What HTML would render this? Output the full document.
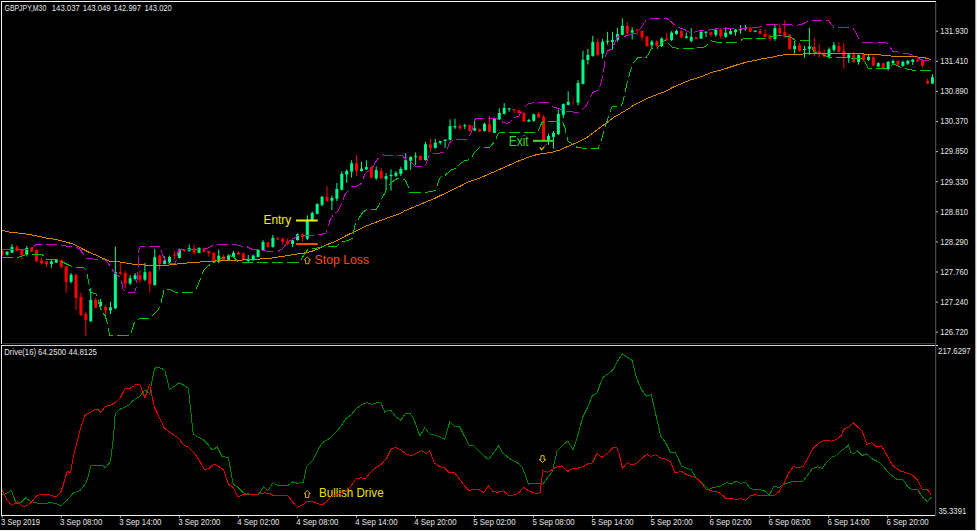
<!DOCTYPE html><html><head><meta charset="utf-8"><title>GBPJPY,M30</title><style>
html,body{margin:0;padding:0;background:#000;overflow:hidden;}
svg{display:block;}
text{font-family:"Liberation Sans",Arial,sans-serif;}
.ax{fill:#e6e6e6;font-size:8.8px;}
</style></head><body>
<svg width="977" height="531" viewBox="0 0 977 531">
<rect x="0" y="0" width="977" height="531" fill="#000"/>
<rect x="975" y="0" width="1" height="531" fill="#a0a0a0"/>
<rect x="976" y="0" width="1" height="531" fill="#f0f0f0"/>
<rect x="0" y="530" width="977" height="1" fill="#f0f0f0"/>
<defs><clipPath id="cclip"><rect x="2" y="2" width="933" height="341"/></clipPath></defs>
<g id="candles" clip-path="url(#cclip)"><line x1="2.16" y1="250.0" x2="2.16" y2="256.0" stroke="#ff0000" stroke-width="1"/><line x1="7.08" y1="251.0" x2="7.08" y2="255.5" stroke="#00fa8a" stroke-width="1"/><line x1="12.00" y1="244.2" x2="12.00" y2="253.0" stroke="#00fa8a" stroke-width="1"/><line x1="16.93" y1="245.0" x2="16.93" y2="251.0" stroke="#ff0000" stroke-width="1"/><line x1="21.85" y1="249.0" x2="21.85" y2="259.5" stroke="#ff0000" stroke-width="1"/><line x1="26.77" y1="246.0" x2="26.77" y2="256.6" stroke="#00fa8a" stroke-width="1"/><line x1="31.69" y1="247.0" x2="31.69" y2="252.0" stroke="#ff0000" stroke-width="1"/><line x1="36.61" y1="249.5" x2="36.61" y2="262.0" stroke="#ff0000" stroke-width="1"/><line x1="41.54" y1="258.0" x2="41.54" y2="264.5" stroke="#ff0000" stroke-width="1"/><line x1="46.46" y1="261.0" x2="46.46" y2="266.8" stroke="#ff0000" stroke-width="1"/><line x1="51.38" y1="259.5" x2="51.38" y2="267.7" stroke="#00fa8a" stroke-width="1"/><line x1="56.30" y1="259.0" x2="56.30" y2="263.0" stroke="#00fa8a" stroke-width="1"/><line x1="61.22" y1="259.8" x2="61.22" y2="268.7" stroke="#ff0000" stroke-width="1"/><line x1="66.15" y1="266.0" x2="66.15" y2="292.8" stroke="#ff0000" stroke-width="1"/><line x1="71.07" y1="273.0" x2="71.07" y2="283.3" stroke="#00fa8a" stroke-width="1"/><line x1="75.99" y1="274.0" x2="75.99" y2="309.9" stroke="#ff0000" stroke-width="1"/><line x1="80.91" y1="292.8" x2="80.91" y2="316.0" stroke="#ff0000" stroke-width="1"/><line x1="85.83" y1="312.2" x2="85.83" y2="335.8" stroke="#ff0000" stroke-width="1"/><line x1="90.76" y1="288.1" x2="90.76" y2="321.8" stroke="#00fa8a" stroke-width="1"/><line x1="95.68" y1="298.0" x2="95.68" y2="308.0" stroke="#ff0000" stroke-width="1"/><line x1="100.60" y1="299.0" x2="100.60" y2="309.0" stroke="#00fa8a" stroke-width="1"/><line x1="105.52" y1="305.2" x2="105.52" y2="318.7" stroke="#ff0000" stroke-width="1"/><line x1="110.44" y1="302.0" x2="110.44" y2="314.0" stroke="#00fa8a" stroke-width="1"/><line x1="115.37" y1="246.6" x2="115.37" y2="309.0" stroke="#00fa8a" stroke-width="1"/><line x1="120.29" y1="262.4" x2="120.29" y2="275.2" stroke="#ff0000" stroke-width="1"/><line x1="125.21" y1="270.7" x2="125.21" y2="288.7" stroke="#ff0000" stroke-width="1"/><line x1="130.13" y1="275.2" x2="130.13" y2="285.0" stroke="#00fa8a" stroke-width="1"/><line x1="135.05" y1="273.0" x2="135.05" y2="280.5" stroke="#00fa8a" stroke-width="1"/><line x1="139.98" y1="270.7" x2="139.98" y2="282.7" stroke="#ff0000" stroke-width="1"/><line x1="144.90" y1="263.0" x2="144.90" y2="281.2" stroke="#00fa8a" stroke-width="1"/><line x1="149.82" y1="271.0" x2="149.82" y2="292.5" stroke="#ff0000" stroke-width="1"/><line x1="154.74" y1="248.8" x2="154.74" y2="285.7" stroke="#00fa8a" stroke-width="1"/><line x1="159.66" y1="254.8" x2="159.66" y2="269.9" stroke="#ff0000" stroke-width="1"/><line x1="164.59" y1="256.4" x2="164.59" y2="264.6" stroke="#00fa8a" stroke-width="1"/><line x1="169.51" y1="255.6" x2="169.51" y2="263.0" stroke="#00fa8a" stroke-width="1"/><line x1="174.43" y1="251.0" x2="174.43" y2="259.4" stroke="#ff0000" stroke-width="1"/><line x1="179.35" y1="248.8" x2="179.35" y2="258.5" stroke="#00fa8a" stroke-width="1"/><line x1="184.27" y1="249.0" x2="184.27" y2="252.0" stroke="#ff0000" stroke-width="1"/><line x1="189.20" y1="244.4" x2="189.20" y2="251.9" stroke="#00fa8a" stroke-width="1"/><line x1="194.12" y1="245.1" x2="194.12" y2="254.5" stroke="#ff0000" stroke-width="1"/><line x1="199.04" y1="247.5" x2="199.04" y2="253.0" stroke="#00fa8a" stroke-width="1"/><line x1="203.96" y1="247.4" x2="203.96" y2="252.4" stroke="#ff0000" stroke-width="1"/><line x1="208.88" y1="250.8" x2="208.88" y2="256.4" stroke="#ff0000" stroke-width="1"/><line x1="213.81" y1="252.4" x2="213.81" y2="261.7" stroke="#ff0000" stroke-width="1"/><line x1="218.73" y1="249.6" x2="218.73" y2="263.2" stroke="#00fa8a" stroke-width="1"/><line x1="223.65" y1="254.5" x2="223.65" y2="261.0" stroke="#ff0000" stroke-width="1"/><line x1="228.57" y1="254.2" x2="228.57" y2="260.2" stroke="#00fa8a" stroke-width="1"/><line x1="233.49" y1="251.1" x2="233.49" y2="257.5" stroke="#00fa8a" stroke-width="1"/><line x1="238.42" y1="251.1" x2="238.42" y2="254.9" stroke="#ff0000" stroke-width="1"/><line x1="243.34" y1="252.7" x2="243.34" y2="260.5" stroke="#ff0000" stroke-width="1"/><line x1="248.26" y1="254.9" x2="248.26" y2="262.4" stroke="#00fa8a" stroke-width="1"/><line x1="253.18" y1="254.5" x2="253.18" y2="260.9" stroke="#00fa8a" stroke-width="1"/><line x1="258.10" y1="249.3" x2="258.10" y2="257.2" stroke="#00fa8a" stroke-width="1"/><line x1="263.03" y1="240.2" x2="263.03" y2="250.3" stroke="#00fa8a" stroke-width="1"/><line x1="267.95" y1="241.7" x2="267.95" y2="247.7" stroke="#ff0000" stroke-width="1"/><line x1="272.87" y1="234.9" x2="272.87" y2="247.7" stroke="#00fa8a" stroke-width="1"/><line x1="277.79" y1="236.9" x2="277.79" y2="240.2" stroke="#ff0000" stroke-width="1"/><line x1="282.71" y1="237.5" x2="282.71" y2="244.7" stroke="#ff0000" stroke-width="1"/><line x1="287.64" y1="238.4" x2="287.64" y2="245.5" stroke="#ff0000" stroke-width="1"/><line x1="292.56" y1="238.7" x2="292.56" y2="247.0" stroke="#00fa8a" stroke-width="1"/><line x1="297.48" y1="233.4" x2="297.48" y2="240.5" stroke="#00fa8a" stroke-width="1"/><line x1="302.40" y1="233.4" x2="302.40" y2="241.7" stroke="#ff0000" stroke-width="1"/><line x1="307.32" y1="215.3" x2="307.32" y2="240.2" stroke="#00fa8a" stroke-width="1"/><line x1="312.25" y1="211.6" x2="312.25" y2="221.4" stroke="#00fa8a" stroke-width="1"/><line x1="317.17" y1="203.3" x2="317.17" y2="214.3" stroke="#00fa8a" stroke-width="1"/><line x1="322.09" y1="195.8" x2="322.09" y2="206.3" stroke="#00fa8a" stroke-width="1"/><line x1="327.01" y1="186.0" x2="327.01" y2="201.8" stroke="#ff0000" stroke-width="1"/><line x1="331.93" y1="195.7" x2="331.93" y2="210.0" stroke="#00fa8a" stroke-width="1"/><line x1="336.86" y1="183.0" x2="336.86" y2="201.0" stroke="#00fa8a" stroke-width="1"/><line x1="341.78" y1="171.3" x2="341.78" y2="190.5" stroke="#00fa8a" stroke-width="1"/><line x1="346.70" y1="169.4" x2="346.70" y2="183.0" stroke="#00fa8a" stroke-width="1"/><line x1="351.62" y1="160.3" x2="351.62" y2="177.6" stroke="#00fa8a" stroke-width="1"/><line x1="356.54" y1="155.0" x2="356.54" y2="176.1" stroke="#ff0000" stroke-width="1"/><line x1="361.47" y1="161.8" x2="361.47" y2="171.6" stroke="#00fa8a" stroke-width="1"/><line x1="366.39" y1="160.3" x2="366.39" y2="170.1" stroke="#00fa8a" stroke-width="1"/><line x1="371.31" y1="166.4" x2="371.31" y2="178.4" stroke="#ff0000" stroke-width="1"/><line x1="376.23" y1="166.4" x2="376.23" y2="179.9" stroke="#00fa8a" stroke-width="1"/><line x1="381.15" y1="167.9" x2="381.15" y2="178.9" stroke="#ff0000" stroke-width="1"/><line x1="386.08" y1="173.1" x2="386.08" y2="189.7" stroke="#00fa8a" stroke-width="1"/><line x1="391.00" y1="169.4" x2="391.00" y2="190.5" stroke="#00fa8a" stroke-width="1"/><line x1="395.92" y1="171.3" x2="395.92" y2="176.9" stroke="#00fa8a" stroke-width="1"/><line x1="400.84" y1="167.1" x2="400.84" y2="176.1" stroke="#00fa8a" stroke-width="1"/><line x1="405.76" y1="153.2" x2="405.76" y2="170.5" stroke="#00fa8a" stroke-width="1"/><line x1="410.69" y1="156.2" x2="410.69" y2="169.8" stroke="#00fa8a" stroke-width="1"/><line x1="415.61" y1="152.4" x2="415.61" y2="165.2" stroke="#00fa8a" stroke-width="1"/><line x1="420.53" y1="155.5" x2="420.53" y2="160.7" stroke="#ff0000" stroke-width="1"/><line x1="425.45" y1="141.9" x2="425.45" y2="160.7" stroke="#00fa8a" stroke-width="1"/><line x1="430.37" y1="138.9" x2="430.37" y2="151.7" stroke="#ff0000" stroke-width="1"/><line x1="435.30" y1="138.9" x2="435.30" y2="148.7" stroke="#00fa8a" stroke-width="1"/><line x1="440.22" y1="141.1" x2="440.22" y2="144.5" stroke="#00fa8a" stroke-width="1"/><line x1="445.14" y1="139.3" x2="445.14" y2="147.9" stroke="#00fa8a" stroke-width="1"/><line x1="450.06" y1="119.3" x2="450.06" y2="140.4" stroke="#00fa8a" stroke-width="1"/><line x1="454.98" y1="118.9" x2="454.98" y2="129.1" stroke="#00fa8a" stroke-width="1"/><line x1="459.91" y1="123.8" x2="459.91" y2="129.8" stroke="#ff0000" stroke-width="1"/><line x1="464.83" y1="123.8" x2="464.83" y2="129.1" stroke="#00fa8a" stroke-width="1"/><line x1="469.75" y1="124.6" x2="469.75" y2="131.8" stroke="#ff0000" stroke-width="1"/><line x1="474.67" y1="120.0" x2="474.67" y2="130.9" stroke="#00fa8a" stroke-width="1"/><line x1="479.59" y1="128.5" x2="479.59" y2="132.4" stroke="#ff0000" stroke-width="1"/><line x1="484.52" y1="122.6" x2="484.52" y2="131.7" stroke="#00fa8a" stroke-width="1"/><line x1="489.44" y1="115.9" x2="489.44" y2="132.4" stroke="#ff0000" stroke-width="1"/><line x1="494.36" y1="117.4" x2="494.36" y2="133.2" stroke="#00fa8a" stroke-width="1"/><line x1="499.28" y1="108.3" x2="499.28" y2="120.0" stroke="#00fa8a" stroke-width="1"/><line x1="504.20" y1="103.1" x2="504.20" y2="114.4" stroke="#00fa8a" stroke-width="1"/><line x1="509.13" y1="107.9" x2="509.13" y2="111.8" stroke="#00fa8a" stroke-width="1"/><line x1="514.05" y1="108.8" x2="514.05" y2="113.6" stroke="#ff0000" stroke-width="1"/><line x1="518.97" y1="109.8" x2="518.97" y2="113.6" stroke="#ff0000" stroke-width="1"/><line x1="523.89" y1="112.1" x2="523.89" y2="121.9" stroke="#ff0000" stroke-width="1"/><line x1="528.81" y1="118.9" x2="528.81" y2="121.9" stroke="#00fa8a" stroke-width="1"/><line x1="533.74" y1="113.6" x2="533.74" y2="121.9" stroke="#00fa8a" stroke-width="1"/><line x1="538.66" y1="111.8" x2="538.66" y2="118.1" stroke="#ff0000" stroke-width="1"/><line x1="543.58" y1="115.1" x2="543.58" y2="141.5" stroke="#ff0000" stroke-width="1"/><line x1="548.50" y1="133.9" x2="548.50" y2="144.8" stroke="#00fa8a" stroke-width="1"/><line x1="553.42" y1="131.0" x2="553.42" y2="148.7" stroke="#00fa8a" stroke-width="1"/><line x1="558.35" y1="109.4" x2="558.35" y2="135.0" stroke="#00fa8a" stroke-width="1"/><line x1="563.27" y1="103.3" x2="563.27" y2="118.4" stroke="#00fa8a" stroke-width="1"/><line x1="568.19" y1="91.3" x2="568.19" y2="105.6" stroke="#00fa8a" stroke-width="1"/><line x1="573.11" y1="96.5" x2="573.11" y2="105.9" stroke="#8a0000" stroke-width="1"/><line x1="578.03" y1="80.0" x2="578.03" y2="105.6" stroke="#00fa8a" stroke-width="1"/><line x1="582.96" y1="50.7" x2="582.96" y2="84.5" stroke="#00fa8a" stroke-width="1"/><line x1="587.88" y1="48.9" x2="587.88" y2="64.5" stroke="#00fa8a" stroke-width="1"/><line x1="592.80" y1="35.9" x2="592.80" y2="56.7" stroke="#00fa8a" stroke-width="1"/><line x1="597.72" y1="38.9" x2="597.72" y2="55.9" stroke="#ff0000" stroke-width="1"/><line x1="602.64" y1="38.9" x2="602.64" y2="58.2" stroke="#00fa8a" stroke-width="1"/><line x1="607.57" y1="31.8" x2="607.57" y2="44.6" stroke="#00fa8a" stroke-width="1"/><line x1="612.49" y1="31.8" x2="612.49" y2="49.5" stroke="#00fa8a" stroke-width="1"/><line x1="617.41" y1="27.8" x2="617.41" y2="41.6" stroke="#00fa8a" stroke-width="1"/><line x1="622.33" y1="18.3" x2="622.33" y2="35.3" stroke="#00fa8a" stroke-width="1"/><line x1="627.25" y1="22.0" x2="627.25" y2="35.6" stroke="#ff0000" stroke-width="1"/><line x1="632.18" y1="27.3" x2="632.18" y2="39.4" stroke="#00fa8a" stroke-width="1"/><line x1="637.10" y1="28.8" x2="637.10" y2="34.8" stroke="#ff0000" stroke-width="1"/><line x1="642.02" y1="30.3" x2="642.02" y2="40.9" stroke="#ff0000" stroke-width="1"/><line x1="646.94" y1="35.6" x2="646.94" y2="46.9" stroke="#ff0000" stroke-width="1"/><line x1="651.86" y1="40.1" x2="651.86" y2="49.2" stroke="#00fa8a" stroke-width="1"/><line x1="656.79" y1="40.1" x2="656.79" y2="46.9" stroke="#ff0000" stroke-width="1"/><line x1="661.71" y1="37.1" x2="661.71" y2="46.9" stroke="#00fa8a" stroke-width="1"/><line x1="666.63" y1="32.6" x2="666.63" y2="40.9" stroke="#ff0000" stroke-width="1"/><line x1="671.55" y1="31.1" x2="671.55" y2="40.9" stroke="#00fa8a" stroke-width="1"/><line x1="676.47" y1="29.6" x2="676.47" y2="34.8" stroke="#00fa8a" stroke-width="1"/><line x1="681.40" y1="30.3" x2="681.40" y2="37.9" stroke="#ff0000" stroke-width="1"/><line x1="686.32" y1="32.6" x2="686.32" y2="38.6" stroke="#00fa8a" stroke-width="1"/><line x1="691.24" y1="28.1" x2="691.24" y2="42.4" stroke="#00fa8a" stroke-width="1"/><line x1="696.16" y1="36.8" x2="696.16" y2="39.4" stroke="#ff0000" stroke-width="1"/><line x1="701.08" y1="31.1" x2="701.08" y2="38.9" stroke="#00fa8a" stroke-width="1"/><line x1="706.01" y1="31.1" x2="706.01" y2="37.1" stroke="#00fa8a" stroke-width="1"/><line x1="710.93" y1="31.8" x2="710.93" y2="36.8" stroke="#ff0000" stroke-width="1"/><line x1="715.85" y1="28.1" x2="715.85" y2="36.8" stroke="#00fa8a" stroke-width="1"/><line x1="720.77" y1="28.1" x2="720.77" y2="38.6" stroke="#ff0000" stroke-width="1"/><line x1="725.69" y1="27.3" x2="725.69" y2="37.9" stroke="#00fa8a" stroke-width="1"/><line x1="730.62" y1="28.8" x2="730.62" y2="34.8" stroke="#00fa8a" stroke-width="1"/><line x1="735.54" y1="28.8" x2="735.54" y2="35.6" stroke="#00fa8a" stroke-width="1"/><line x1="740.46" y1="25.1" x2="740.46" y2="33.8" stroke="#00fa8a" stroke-width="1"/><line x1="745.38" y1="24.8" x2="745.38" y2="30.8" stroke="#00fa8a" stroke-width="1"/><line x1="750.30" y1="26.6" x2="750.30" y2="32.3" stroke="#ff0000" stroke-width="1"/><line x1="755.23" y1="30.3" x2="755.23" y2="32.3" stroke="#00fa8a" stroke-width="1"/><line x1="760.15" y1="28.8" x2="760.15" y2="34.4" stroke="#ff0000" stroke-width="1"/><line x1="765.07" y1="29.3" x2="765.07" y2="37.1" stroke="#ff0000" stroke-width="1"/><line x1="769.99" y1="34.1" x2="769.99" y2="40.9" stroke="#ff0000" stroke-width="1"/><line x1="774.91" y1="25.1" x2="774.91" y2="40.9" stroke="#00fa8a" stroke-width="1"/><line x1="779.84" y1="23.3" x2="779.84" y2="34.8" stroke="#ff0000" stroke-width="1"/><line x1="784.76" y1="20.2" x2="784.76" y2="37.9" stroke="#ff0000" stroke-width="1"/><line x1="789.68" y1="34.1" x2="789.68" y2="49.9" stroke="#ff0000" stroke-width="1"/><line x1="794.60" y1="40.9" x2="794.60" y2="53.7" stroke="#00fa8a" stroke-width="1"/><line x1="799.52" y1="42.9" x2="799.52" y2="51.9" stroke="#ff0000" stroke-width="1"/><line x1="804.45" y1="45.9" x2="804.45" y2="57.9" stroke="#00fa8a" stroke-width="1"/><line x1="809.37" y1="27.8" x2="809.37" y2="54.9" stroke="#00fa8a" stroke-width="1"/><line x1="814.29" y1="37.9" x2="814.29" y2="56.4" stroke="#ff0000" stroke-width="1"/><line x1="819.21" y1="44.4" x2="819.21" y2="57.9" stroke="#ff0000" stroke-width="1"/><line x1="824.13" y1="49.3" x2="824.13" y2="57.2" stroke="#ff0000" stroke-width="1"/><line x1="829.06" y1="47.4" x2="829.06" y2="58.7" stroke="#00fa8a" stroke-width="1"/><line x1="833.98" y1="42.1" x2="833.98" y2="51.9" stroke="#00fa8a" stroke-width="1"/><line x1="838.90" y1="42.1" x2="838.90" y2="52.7" stroke="#ff0000" stroke-width="1"/><line x1="843.82" y1="42.9" x2="843.82" y2="68.5" stroke="#ff0000" stroke-width="1"/><line x1="848.74" y1="53.4" x2="848.74" y2="62.9" stroke="#00fa8a" stroke-width="1"/><line x1="853.67" y1="51.9" x2="853.67" y2="62.9" stroke="#ff0000" stroke-width="1"/><line x1="858.59" y1="54.5" x2="858.59" y2="64.7" stroke="#00fa8a" stroke-width="1"/><line x1="863.51" y1="52.7" x2="863.51" y2="60.9" stroke="#ff0000" stroke-width="1"/><line x1="868.43" y1="54.9" x2="868.43" y2="60.9" stroke="#00fa8a" stroke-width="1"/><line x1="873.35" y1="56.2" x2="873.35" y2="65.9" stroke="#ff0000" stroke-width="1"/><line x1="878.28" y1="62.3" x2="878.28" y2="67.1" stroke="#00fa8a" stroke-width="1"/><line x1="883.20" y1="62.7" x2="883.20" y2="68.4" stroke="#ff0000" stroke-width="1"/><line x1="888.12" y1="60.9" x2="888.12" y2="70.4" stroke="#00fa8a" stroke-width="1"/><line x1="893.04" y1="59.6" x2="893.04" y2="64.3" stroke="#00fa8a" stroke-width="1"/><line x1="897.96" y1="60.5" x2="897.96" y2="66.0" stroke="#ff0000" stroke-width="1"/><line x1="902.89" y1="60.5" x2="902.89" y2="67.0" stroke="#00fa8a" stroke-width="1"/><line x1="907.81" y1="60.0" x2="907.81" y2="64.9" stroke="#00fa8a" stroke-width="1"/><line x1="912.73" y1="58.9" x2="912.73" y2="64.9" stroke="#00fa8a" stroke-width="1"/><line x1="917.65" y1="56.9" x2="917.65" y2="61.9" stroke="#ff0000" stroke-width="1"/><line x1="922.57" y1="58.9" x2="922.57" y2="67.7" stroke="#ff0000" stroke-width="1"/><line x1="927.50" y1="79.0" x2="927.50" y2="84.0" stroke="#ff0000" stroke-width="1"/><line x1="932.42" y1="74.1" x2="932.42" y2="84.0" stroke="#00fa8a" stroke-width="1"/><rect x="0.66" y="251.0" width="3" height="3.6" fill="#ff0000"/><rect x="5.58" y="251.9" width="3" height="2.7" fill="#00fa8a"/><rect x="10.50" y="247.0" width="3" height="5.7" fill="#00fa8a"/><rect x="15.43" y="247.0" width="3" height="3.8" fill="#ff0000"/><rect x="20.35" y="249.9" width="3" height="5.1" fill="#ff0000"/><rect x="25.27" y="248.0" width="3" height="7.0" fill="#00fa8a"/><rect x="30.19" y="247.6" width="3" height="3.9" fill="#ff0000"/><rect x="35.11" y="250.0" width="3" height="11.4" fill="#ff0000"/><rect x="40.04" y="260.6" width="3" height="2.8" fill="#ff0000"/><rect x="44.96" y="261.4" width="3" height="2.6" fill="#ff0000"/><rect x="49.88" y="261.4" width="3" height="2.6" fill="#00fa8a"/><rect x="54.80" y="259.3" width="3" height="3.3" fill="#00fa8a"/><rect x="59.72" y="260.2" width="3" height="6.6" fill="#ff0000"/><rect x="64.65" y="266.8" width="3" height="15.1" fill="#ff0000"/><rect x="69.57" y="274.8" width="3" height="7.1" fill="#00fa8a"/><rect x="74.49" y="274.8" width="3" height="23.2" fill="#ff0000"/><rect x="79.41" y="296.9" width="3" height="18.1" fill="#ff0000"/><rect x="84.33" y="314.0" width="3" height="6.0" fill="#ff0000"/><rect x="89.26" y="300.0" width="3" height="21.3" fill="#00fa8a"/><rect x="94.18" y="300.0" width="3" height="7.6" fill="#ff0000"/><rect x="99.10" y="302.0" width="3" height="4.0" fill="#00fa8a"/><rect x="104.02" y="306.8" width="3" height="3.6" fill="#ff0000"/><rect x="108.94" y="307.3" width="3" height="3.1" fill="#00fa8a"/><rect x="113.87" y="272.2" width="3" height="36.1" fill="#00fa8a"/><rect x="118.79" y="272.0" width="3" height="1.7" fill="#ff0000"/><rect x="123.71" y="273.0" width="3" height="10.5" fill="#ff0000"/><rect x="128.63" y="278.2" width="3" height="5.3" fill="#00fa8a"/><rect x="133.55" y="275.2" width="3" height="3.8" fill="#00fa8a"/><rect x="138.48" y="275.2" width="3" height="4.5" fill="#ff0000"/><rect x="143.40" y="272.2" width="3" height="7.5" fill="#00fa8a"/><rect x="148.32" y="272.2" width="3" height="12.0" fill="#ff0000"/><rect x="153.24" y="257.1" width="3" height="27.9" fill="#00fa8a"/><rect x="158.16" y="255.6" width="3" height="8.3" fill="#ff0000"/><rect x="163.09" y="260.9" width="3" height="3.0" fill="#00fa8a"/><rect x="168.01" y="257.1" width="3" height="5.3" fill="#00fa8a"/><rect x="172.93" y="254.6" width="3" height="1.0" fill="#ff0000"/><rect x="177.85" y="249.6" width="3" height="8.3" fill="#00fa8a"/><rect x="182.77" y="249.6" width="3" height="1.4" fill="#ff0000"/><rect x="187.70" y="248.1" width="3" height="2.7" fill="#00fa8a"/><rect x="192.62" y="248.4" width="3" height="4.3" fill="#ff0000"/><rect x="197.54" y="247.8" width="3" height="4.9" fill="#00fa8a"/><rect x="202.46" y="248.4" width="3" height="3.5" fill="#ff0000"/><rect x="207.38" y="251.1" width="3" height="2.3" fill="#ff0000"/><rect x="212.31" y="252.7" width="3" height="8.3" fill="#ff0000"/><rect x="217.23" y="255.7" width="3" height="6.0" fill="#00fa8a"/><rect x="222.15" y="256.4" width="3" height="3.8" fill="#ff0000"/><rect x="227.07" y="255.4" width="3" height="4.5" fill="#00fa8a"/><rect x="231.99" y="252.7" width="3" height="4.5" fill="#00fa8a"/><rect x="236.92" y="252.7" width="3" height="1.8" fill="#ff0000"/><rect x="241.84" y="253.4" width="3" height="6.8" fill="#ff0000"/><rect x="246.76" y="259.4" width="3" height="1.6" fill="#00fa8a"/><rect x="251.68" y="255.7" width="3" height="4.5" fill="#00fa8a"/><rect x="256.60" y="249.9" width="3" height="7.0" fill="#00fa8a"/><rect x="261.53" y="242.0" width="3" height="8.0" fill="#00fa8a"/><rect x="266.45" y="242.4" width="3" height="4.6" fill="#ff0000"/><rect x="271.37" y="237.9" width="3" height="9.1" fill="#00fa8a"/><rect x="276.29" y="238.4" width="3" height="1.0" fill="#ff0000"/><rect x="281.21" y="238.7" width="3" height="3.0" fill="#ff0000"/><rect x="286.14" y="240.9" width="3" height="3.1" fill="#ff0000"/><rect x="291.06" y="240.2" width="3" height="3.8" fill="#00fa8a"/><rect x="295.98" y="234.2" width="3" height="6.0" fill="#00fa8a"/><rect x="300.90" y="234.5" width="3" height="2.7" fill="#ff0000"/><rect x="305.82" y="220.6" width="3" height="18.1" fill="#00fa8a"/><rect x="310.75" y="213.0" width="3" height="7.6" fill="#00fa8a"/><rect x="315.67" y="204.0" width="3" height="9.8" fill="#00fa8a"/><rect x="320.59" y="196.8" width="3" height="8.0" fill="#00fa8a"/><rect x="325.51" y="196.8" width="3" height="4.1" fill="#ff0000"/><rect x="330.43" y="198.0" width="3" height="2.7" fill="#00fa8a"/><rect x="335.36" y="189.0" width="3" height="9.7" fill="#00fa8a"/><rect x="340.28" y="173.9" width="3" height="15.8" fill="#00fa8a"/><rect x="345.20" y="170.9" width="3" height="3.7" fill="#00fa8a"/><rect x="350.12" y="163.3" width="3" height="8.3" fill="#00fa8a"/><rect x="355.04" y="163.3" width="3" height="7.6" fill="#ff0000"/><rect x="359.97" y="168.6" width="3" height="2.3" fill="#00fa8a"/><rect x="364.89" y="167.1" width="3" height="2.3" fill="#00fa8a"/><rect x="369.81" y="167.1" width="3" height="10.5" fill="#ff0000"/><rect x="374.73" y="170.1" width="3" height="8.3" fill="#00fa8a"/><rect x="379.65" y="170.9" width="3" height="7.5" fill="#ff0000"/><rect x="384.58" y="176.1" width="3" height="3.1" fill="#00fa8a"/><rect x="389.50" y="175.0" width="3" height="1.1" fill="#00fa8a"/><rect x="394.42" y="172.8" width="3" height="3.0" fill="#00fa8a"/><rect x="399.34" y="168.9" width="3" height="5.0" fill="#00fa8a"/><rect x="404.26" y="160.0" width="3" height="9.8" fill="#00fa8a"/><rect x="409.19" y="157.0" width="3" height="3.7" fill="#00fa8a"/><rect x="414.11" y="156.2" width="3" height="1.0" fill="#00fa8a"/><rect x="419.03" y="156.2" width="3" height="3.8" fill="#ff0000"/><rect x="423.95" y="144.2" width="3" height="15.8" fill="#00fa8a"/><rect x="428.87" y="144.5" width="3" height="3.4" fill="#ff0000"/><rect x="433.80" y="142.6" width="3" height="5.3" fill="#00fa8a"/><rect x="438.72" y="141.1" width="3" height="1.5" fill="#00fa8a"/><rect x="443.64" y="139.6" width="3" height="1.2" fill="#00fa8a"/><rect x="448.56" y="126.1" width="3" height="13.8" fill="#00fa8a"/><rect x="453.48" y="126.1" width="3" height="1.2" fill="#00fa8a"/><rect x="458.41" y="126.1" width="3" height="2.2" fill="#ff0000"/><rect x="463.33" y="125.3" width="3" height="1.0" fill="#00fa8a"/><rect x="468.25" y="125.0" width="3" height="5.6" fill="#ff0000"/><rect x="473.17" y="128.3" width="3" height="2.3" fill="#00fa8a"/><rect x="478.09" y="129.3" width="3" height="2.0" fill="#ff0000"/><rect x="483.02" y="123.9" width="3" height="7.0" fill="#00fa8a"/><rect x="487.94" y="124.2" width="3" height="7.5" fill="#ff0000"/><rect x="492.86" y="118.9" width="3" height="14.0" fill="#00fa8a"/><rect x="497.78" y="112.9" width="3" height="6.4" fill="#00fa8a"/><rect x="502.70" y="107.9" width="3" height="6.0" fill="#00fa8a"/><rect x="507.63" y="108.3" width="3" height="1.0" fill="#00fa8a"/><rect x="512.55" y="109.1" width="3" height="1.2" fill="#ff0000"/><rect x="517.47" y="110.3" width="3" height="2.6" fill="#ff0000"/><rect x="522.39" y="112.9" width="3" height="8.7" fill="#ff0000"/><rect x="527.31" y="120.0" width="3" height="1.6" fill="#00fa8a"/><rect x="532.24" y="114.4" width="3" height="6.4" fill="#00fa8a"/><rect x="537.16" y="113.6" width="3" height="3.8" fill="#ff0000"/><rect x="542.08" y="116.9" width="3" height="23.1" fill="#ff0000"/><rect x="547.00" y="135.9" width="3" height="4.6" fill="#00fa8a"/><rect x="551.92" y="132.9" width="3" height="4.0" fill="#00fa8a"/><rect x="556.85" y="113.9" width="3" height="20.3" fill="#00fa8a"/><rect x="561.77" y="104.1" width="3" height="10.8" fill="#00fa8a"/><rect x="566.69" y="101.8" width="3" height="3.0" fill="#00fa8a"/><rect x="572.21" y="101.7" width="1.8" height="1.9" fill="#8a0000"/><rect x="576.53" y="83.0" width="3" height="19.6" fill="#00fa8a"/><rect x="581.46" y="59.7" width="3" height="24.1" fill="#00fa8a"/><rect x="586.38" y="54.9" width="3" height="5.1" fill="#00fa8a"/><rect x="591.30" y="41.9" width="3" height="14.0" fill="#00fa8a"/><rect x="596.22" y="41.9" width="3" height="13.0" fill="#ff0000"/><rect x="601.14" y="41.6" width="3" height="12.1" fill="#00fa8a"/><rect x="606.07" y="40.9" width="3" height="1.0" fill="#00fa8a"/><rect x="610.99" y="39.8" width="3" height="2.1" fill="#00fa8a"/><rect x="615.91" y="34.1" width="3" height="6.0" fill="#00fa8a"/><rect x="620.83" y="25.8" width="3" height="9.0" fill="#00fa8a"/><rect x="625.75" y="25.8" width="3" height="7.5" fill="#ff0000"/><rect x="630.68" y="30.3" width="3" height="2.3" fill="#00fa8a"/><rect x="635.60" y="29.6" width="3" height="1.2" fill="#ff0000"/><rect x="640.52" y="31.1" width="3" height="6.3" fill="#ff0000"/><rect x="645.44" y="36.8" width="3" height="9.3" fill="#ff0000"/><rect x="650.36" y="41.6" width="3" height="3.8" fill="#00fa8a"/><rect x="655.29" y="41.6" width="3" height="4.2" fill="#ff0000"/><rect x="660.21" y="38.6" width="3" height="7.5" fill="#00fa8a"/><rect x="665.13" y="38.6" width="3" height="1.5" fill="#ff0000"/><rect x="670.05" y="32.6" width="3" height="7.5" fill="#00fa8a"/><rect x="674.97" y="30.8" width="3" height="3.3" fill="#00fa8a"/><rect x="679.90" y="31.1" width="3" height="6.3" fill="#ff0000"/><rect x="684.82" y="36.4" width="3" height="1.5" fill="#00fa8a"/><rect x="689.74" y="36.8" width="3" height="4.1" fill="#00fa8a"/><rect x="694.66" y="37.4" width="3" height="1.5" fill="#ff0000"/><rect x="699.58" y="31.8" width="3" height="6.8" fill="#00fa8a"/><rect x="704.51" y="31.8" width="3" height="1.0" fill="#00fa8a"/><rect x="709.43" y="32.3" width="3" height="2.5" fill="#ff0000"/><rect x="714.35" y="29.9" width="3" height="4.9" fill="#00fa8a"/><rect x="719.27" y="29.2" width="3" height="6.8" fill="#ff0000"/><rect x="724.19" y="32.6" width="3" height="4.2" fill="#00fa8a"/><rect x="729.12" y="31.1" width="3" height="3.0" fill="#00fa8a"/><rect x="734.04" y="29.6" width="3" height="2.7" fill="#00fa8a"/><rect x="738.96" y="29.3" width="3" height="1.0" fill="#00fa8a"/><rect x="743.88" y="28.1" width="3" height="1.2" fill="#00fa8a"/><rect x="748.80" y="28.1" width="3" height="3.7" fill="#ff0000"/><rect x="753.73" y="30.8" width="3" height="1.0" fill="#00fa8a"/><rect x="758.65" y="31.1" width="3" height="2.7" fill="#ff0000"/><rect x="763.57" y="33.8" width="3" height="3.0" fill="#ff0000"/><rect x="768.49" y="35.9" width="3" height="3.0" fill="#ff0000"/><rect x="773.41" y="28.1" width="3" height="10.8" fill="#00fa8a"/><rect x="778.34" y="28.1" width="3" height="5.2" fill="#ff0000"/><rect x="783.26" y="32.3" width="3" height="4.5" fill="#ff0000"/><rect x="788.18" y="34.8" width="3" height="14.1" fill="#ff0000"/><rect x="793.10" y="45.8" width="3" height="3.4" fill="#00fa8a"/><rect x="798.02" y="45.4" width="3" height="5.2" fill="#ff0000"/><rect x="802.95" y="48.9" width="3" height="1.0" fill="#00fa8a"/><rect x="807.87" y="46.6" width="3" height="2.3" fill="#00fa8a"/><rect x="812.79" y="46.9" width="3" height="5.0" fill="#ff0000"/><rect x="817.71" y="51.1" width="3" height="2.8" fill="#ff0000"/><rect x="822.63" y="53.4" width="3" height="3.0" fill="#ff0000"/><rect x="827.56" y="49.3" width="3" height="7.1" fill="#00fa8a"/><rect x="832.48" y="45.1" width="3" height="4.8" fill="#00fa8a"/><rect x="837.40" y="45.9" width="3" height="6.0" fill="#ff0000"/><rect x="842.32" y="50.8" width="3" height="5.6" fill="#ff0000"/><rect x="847.24" y="54.5" width="3" height="3.4" fill="#00fa8a"/><rect x="852.17" y="54.5" width="3" height="7.5" fill="#ff0000"/><rect x="857.09" y="54.9" width="3" height="7.1" fill="#00fa8a"/><rect x="862.01" y="53.9" width="3" height="6.3" fill="#ff0000"/><rect x="866.93" y="56.9" width="3" height="3.0" fill="#00fa8a"/><rect x="871.85" y="57.2" width="3" height="8.3" fill="#ff0000"/><rect x="876.78" y="63.2" width="3" height="3.2" fill="#00fa8a"/><rect x="881.70" y="63.2" width="3" height="4.9" fill="#ff0000"/><rect x="886.62" y="61.9" width="3" height="7.2" fill="#00fa8a"/><rect x="891.54" y="60.9" width="3" height="2.3" fill="#00fa8a"/><rect x="896.46" y="60.9" width="3" height="3.7" fill="#ff0000"/><rect x="901.39" y="61.9" width="3" height="3.8" fill="#00fa8a"/><rect x="906.31" y="60.9" width="3" height="2.7" fill="#00fa8a"/><rect x="911.23" y="59.6" width="3" height="2.3" fill="#00fa8a"/><rect x="916.15" y="60.0" width="3" height="1.3" fill="#ff0000"/><rect x="921.07" y="60.3" width="3" height="5.4" fill="#ff0000"/><rect x="926.00" y="80.9" width="3" height="2.7" fill="#ff0000"/><rect x="930.92" y="77.2" width="3" height="6.4" fill="#00fa8a"/></g>
<g clip-path="url(#mainclip)">
<polyline points="1.5,230.0 5.6,231.2 10.2,232.3 14.7,232.7 19.2,233.1 23.7,233.7 28.2,234.3 32.8,235.2 37.3,236.1 41.8,236.9 46.3,238.0 52.0,238.8 56.5,239.7 60.6,240.5 67.2,242.4 73.8,244.2 78.5,246.6 83.2,249.4 88.0,251.8 93.6,254.1 99.3,256.5 104.0,258.8 109.6,261.2 117.5,261.6 125.0,262.8 134.0,264.3 140.1,264.6 149.2,265.4 165.7,265.4 174.8,264.3 182.3,263.4 190.0,262.7 200.0,262.0 215.1,261.0 230.2,260.5 245.2,259.9 255.0,259.4 270.0,258.3 285.1,256.0 295.0,254.4 299.9,253.6 305.6,252.8 312.2,251.1 318.8,248.7 325.3,245.4 330.0,243.4 334.1,242.1 338.3,239.7 342.4,237.7 346.6,235.4 350.7,233.5 354.8,231.4 359.0,229.7 363.1,227.6 367.3,225.5 371.4,224.0 375.5,222.4 379.7,220.9 383.8,219.3 388.0,217.8 392.1,216.2 396.3,214.9 400.0,213.6 404.2,211.1 410.4,208.5 416.6,205.9 422.8,203.3 429.1,200.7 435.3,198.1 441.5,195.0 447.7,192.1 453.9,189.0 460.1,186.2 468.0,182.1 470.8,181.0 480.0,178.0 509.6,165.0 520.2,160.3 532.2,155.8 541.3,153.6 550.0,152.7 559.0,150.3 568.1,146.3 577.1,142.5 586.1,138.0 595.2,131.2 604.2,124.4 613.3,117.6 620.0,113.8 625.2,110.7 630.4,107.6 634.5,104.5 638.6,102.7 642.8,100.4 646.9,98.6 651.1,96.9 655.2,95.2 659.3,93.6 663.5,92.1 667.6,90.3 671.8,87.9 675.9,85.9 680.0,84.3 684.2,82.5 690.0,80.0 693.2,79.3 702.2,76.3 711.3,72.5 720.3,70.1 727.5,68.0 736.6,65.0 745.6,62.4 754.6,60.5 763.7,58.5 772.7,57.0 780.2,55.2 787.8,54.7 800.0,54.4 804.0,53.9 859.8,53.9 875.0,54.3 877.2,54.8 889.4,55.5 892.1,56.5 916.5,56.5 919.2,57.3 924.7,57.8 931.4,59.6" fill="none" stroke="#dc8400" stroke-width="1" stroke-linejoin="round" shape-rendering="crispEdges"/>
<path d="M2.0 249.3L13.0 249.3M17.0 249.3L28.0 249.3L28.4 249.3M31.9 248.1L36.2 244.4L42.0 244.4M46.0 244.4L57.0 244.4L57.1 244.4M60.9 245.5L61.0 245.5L71.9 246.6M75.8 247.1L80.4 249.4L83.2 254.6L83.7 255.1M86.5 257.9L87.0 258.4L97.8 259.5L97.9 259.5M101.9 259.3L102.0 259.3L105.8 260.2L110.0 266.0M112.2 269.4L114.5 272.9L120.1 277.2M121.6 280.6L122.8 288.7L124.9 291.0M128.4 292.0L134.8 292.0L136.3 287.4M136.7 283.4L137.8 272.3M138.0 268.3L138.4 257.0M138.5 253.0L138.6 251.0L140.1 246.9L144.6 246.6L144.9 246.6M148.9 246.3L149.2 246.3L159.7 246.3L159.8 246.6M161.0 250.4L161.2 251.0L164.2 258.6L165.7 260.5M168.3 263.4L175.5 263.4L176.4 259.6M177.3 255.7L178.5 250.3L183.8 249.3L184.1 249.3M188.1 249.6L199.2 249.6M203.2 249.3L209.0 247.8L213.2 244.7M217.0 244.4L228.2 244.4M232.2 244.5L237.7 245.1L243.2 246.5M247.1 246.8L252.8 249.6L257.3 249.9L258.1 250.0M262.1 250.5L264.0 250.7L271.6 251.9L273.5 251.8M277.5 251.5L277.6 251.5L282.9 248.5L286.0 244.0M288.8 241.2L289.6 240.5L291.5 240.2L295.3 237.4L298.0 235.3L298.5 235.3M302.5 235.3L307.7 235.4L314.1 235.7M318.0 235.0L319.8 234.5L325.8 233.4L327.0 230.0M328.4 226.3L328.8 225.1L330.3 219.5L332.7 215.6M335.6 213.0L337.2 212.1L340.4 206.4L341.8 203.5M343.1 199.7L344.6 195.0L347.6 191.2L348.8 189.8M351.3 186.8L351.4 186.7L356.6 186.4L361.1 183.7L361.5 182.7M363.1 179.1L363.4 178.4L364.9 173.9L367.2 171.6L369.4 170.9L369.8 170.5M372.3 167.4L373.2 166.4L376.2 161.1L378.6 157.7M382.0 155.6L383.0 155.0L393.4 155.2M397.4 155.3L401.8 155.4L403.0 156.2L406.8 160.7L407.3 160.9M411.1 162.1L411.3 162.2L415.0 166.0L421.8 166.4M425.6 165.2L428.6 156.2L429.9 155.1M433.3 153.5L436.9 153.5L440.7 152.9L444.3 152.1M446.8 149.5L449.7 142.6L452.0 140.8L452.7 140.4M456.5 139.5L466.3 139.3L467.4 138.6M469.9 135.7L471.5 131.4L473.3 125.0M474.4 121.2L475.3 118.6L483.7 118.5M487.7 118.5L493.0 118.4L498.9 119.3M502.0 121.6L502.9 122.3L507.4 123.4L510.4 121.9L511.8 120.3M514.4 117.3L518.7 116.3L522.3 110.6M524.8 107.5L528.5 103.8L533.0 102.8L534.4 102.8M538.4 102.8L548.8 102.8L549.3 103.4M552.1 106.2L552.6 106.8L557.5 108.3L562.0 109.4L562.8 109.7M566.5 111.3L567.3 111.6L577.9 112.4L578.5 112.0M581.8 109.8L582.4 109.4L586.1 105.6L588.8 100.9M590.5 97.3L591.4 95.1L593.7 91.3L598.2 90.8L598.2 90.7M599.7 87.0L600.2 85.6L602.9 76.3L602.9 76.0M603.5 72.0L604.4 65.7L605.1 60.7M605.7 56.8L605.9 55.2L607.4 50.7L611.9 49.2L612.1 48.9M613.7 45.2L614.9 42.4L617.2 37.1L619.4 36.4L619.7 36.4M623.7 36.4L624.0 36.4L627.0 35.6L630.7 34.4L635.2 33.3L635.6 33.0M638.7 30.5L639.8 29.6L642.8 25.1L645.8 20.5L645.9 20.4M649.4 18.4L649.5 18.3L660.3 18.3M664.3 18.3L664.6 18.3L667.6 19.0L671.4 22.0L674.6 25.3M678.1 27.1L679.6 27.8L684.9 29.6L689.4 32.3L689.7 32.3M693.7 32.3L694.0 32.3L697.7 31.1L700.0 30.3L703.6 30.3M707.6 30.3L712.0 29.6L716.5 28.8L718.6 28.7M722.6 28.5L725.0 28.4L733.6 28.4L733.7 28.4M737.7 29.3L737.8 29.3L747.9 27.8L747.9 27.8M751.9 27.8L755.4 27.8L761.4 26.6L762.2 26.3M765.9 24.9L766.7 24.6L777.8 24.6M781.8 24.6L790.0 24.6L793.3 25.4M797.3 25.1L801.0 24.8L805.5 22.5L807.6 21.1M811.5 20.6L822.0 20.6M826.0 20.6L828.9 21.0L834.1 27.7M838.0 27.8L849.1 27.8M853.0 28.4L855.2 31.6L859.0 38.8L859.4 39.2M862.4 42.0L862.8 42.4L873.2 42.4M877.2 42.4L885.3 42.4L888.0 43.3L888.2 43.6M890.2 47.1L892.8 51.4L898.9 52.1L899.1 52.2M902.8 53.4L903.0 53.5L908.4 53.7L913.1 55.5L913.3 55.6M917.0 56.8L917.2 56.9L919.2 58.9L923.3 60.5L928.7 60.5" fill="none" stroke="#c800c8" stroke-width="1" shape-rendering="crispEdges"/>
<path d="M2.3 257.5L13.0 257.5L13.0 257.5M17.0 257.8L17.0 257.8L24.9 255.0L28.2 254.8M32.2 254.6L42.4 254.6L43.0 255.5L43.2 255.8M45.8 258.9L46.0 259.2L57.0 259.5L57.2 259.6M60.8 261.1L61.0 261.2L65.4 263.5L71.5 266.4L71.7 266.4M75.5 267.5L75.7 267.5L83.2 267.5L85.6 269.7L85.7 270.0M87.0 273.8L87.0 273.9L88.4 280.5L89.1 284.8M89.7 288.7L90.2 291.7L96.5 294.3L96.8 295.6M97.8 299.5L100.6 308.8L101.3 310.1M103.2 313.6L105.0 315.5L107.4 322.8L107.5 323.7M108.0 327.7L108.1 328.3L109.9 335.1L113.4 335.7M117.4 335.7L128.7 335.7M131.2 332.7L131.3 332.6L134.4 322.2L134.6 322.0M137.8 319.6L138.0 319.4L139.9 318.6L149.1 318.6L149.2 318.5M152.0 315.8L152.1 315.7L157.0 311.2L160.2 306.5M161.1 302.6L161.3 300.8L163.1 294.7L163.8 290.5M167.5 289.2L170.2 289.5L174.8 292.0L178.0 292.1M182.0 292.2L192.5 292.6L193.0 292.1M195.8 289.3L196.3 288.8L200.0 279.8L200.8 277.7M202.2 274.0L202.3 273.7L203.8 270.0L209.8 264.7L210.0 264.6M213.5 262.6L215.1 261.7L219.6 258.7L224.2 257.5L224.8 257.3M228.5 255.8L228.7 255.7L233.2 256.4L238.4 262.3M242.3 262.4L253.4 262.4M257.4 262.4L268.3 262.5M272.3 262.5L282.8 262.5M286.7 262.5L297.9 262.5L298.3 262.2M301.2 259.5L307.3 249.9L308.1 249.6M312.0 248.5L313.0 248.3L318.8 247.9L322.8 246.2L323.8 246.2M327.8 246.2L336.7 246.2L338.8 244.2L339.2 244.0M342.5 241.8L342.9 241.6L348.1 240.5L352.3 238.3L352.4 237.6M353.2 233.7L353.3 233.3L354.3 229.2L355.4 223.0L355.6 222.7M358.0 219.6L358.2 219.3L360.5 215.7L363.1 212.1L366.7 209.5L367.0 209.5M371.0 209.5L376.1 209.5L378.7 205.4L379.8 203.0M381.4 199.3L383.3 195.0L384.5 194.2L386.7 188.2M389.2 185.1L389.8 184.4L392.8 181.4L397.3 178.4L399.2 179.1M403.1 179.3L403.2 179.3L405.2 180.0L406.8 183.1L408.4 187.3L408.7 188.3M409.8 192.1L409.9 192.4L420.9 192.4M424.9 192.4L424.9 192.4L431.1 191.7L435.3 190.4L435.6 189.7M437.0 185.9L437.3 185.2L439.4 178.5L441.4 176.3M445.2 175.3L450.8 170.2L455.5 168.6L455.6 168.5M458.4 165.6L460.2 163.7L464.8 160.7L469.3 159.6M471.9 157.0L473.8 153.2L479.9 147.4M483.7 147.3L485.5 147.5L490.0 147.0L494.1 142.1M496.1 138.7L497.6 134.7L499.8 132.0L504.4 132.4L504.7 132.4M508.7 132.4L519.8 132.4M523.8 132.4L534.8 132.4M538.1 130.3L538.3 130.2L542.0 122.6L544.1 121.8M548.0 121.3L555.3 121.9L558.9 122.0M562.8 122.2L565.0 128.2L566.0 132.7M566.8 136.6L568.1 141.7L570.3 142.5L573.0 144.5M576.2 146.8L576.4 147.0L585.4 148.5L586.9 148.5M590.9 148.3L598.2 148.1L599.5 144.7M600.9 141.0L601.2 140.2L604.2 130.6M605.3 126.7L606.5 122.2L608.6 116.3M609.9 112.5L611.7 107.1L616.3 106.4L616.8 106.3M620.8 105.7L621.5 105.6L623.1 100.9L624.1 96.7L624.3 95.8M625.3 91.9L626.2 87.4L627.2 82.2L627.5 81.2M628.7 77.4L628.8 77.0L629.3 75.0L631.5 67.2L631.6 66.9M633.4 63.3L633.7 62.7L637.5 57.9L641.3 57.4L641.6 57.4M645.5 57.9L645.8 57.9L648.8 53.7L651.0 49.2L653.2 47.7M657.1 48.3L660.8 43.9L665.3 40.1L665.6 40.4M668.5 43.3L669.1 43.9L672.9 47.6L678.1 48.4L678.8 48.4M682.8 48.4L693.2 48.4L693.5 48.4M697.4 47.6L697.7 47.6L705.2 46.9L707.5 44.3L707.9 43.9M710.9 41.3L711.3 40.9L714.3 41.9L721.8 42.4L721.9 42.4M725.9 42.3L736.6 42.1L737.1 41.9M740.8 40.5L743.3 38.6L751.5 38.6M755.5 38.6L765.2 38.6L766.0 38.3M769.7 37.1L770.5 36.8L780.2 35.6L781.6 35.8M785.5 36.3L786.3 36.4L790.8 37.1L795.3 40.3L796.4 40.3M800.4 40.3L809.3 40.3L810.1 42.1M811.6 45.8L811.6 45.9L813.8 51.9L817.6 53.4L817.9 53.5M821.8 54.4L825.1 55.7L828.9 57.2L831.9 57.6L832.1 57.6M836.1 57.6L846.2 57.6L846.9 57.7M850.8 58.3L851.5 58.4L861.9 58.4M864.5 61.4L865.0 62.0L868.4 68.4L871.5 68.7M875.5 68.7L887.2 68.7M890.4 66.3L892.1 65.0L895.5 64.6L900.9 67.3L901.0 67.3M904.9 68.4L905.0 68.4L909.1 69.7L915.8 70.4L915.8 70.4M919.8 70.4L930.8 70.4" fill="none" stroke="#00c400" stroke-width="1" shape-rendering="crispEdges"/>
</g>
<defs><clipPath id="mainclip"><rect x="2" y="2" width="933" height="341"/></clipPath><clipPath id="indclip"><rect x="2" y="346" width="933" height="169"/></clipPath></defs>
<rect x="296" y="219.5" width="21.7" height="2" fill="#f0f000"/>
<rect x="296" y="243" width="21.7" height="2" fill="#ff4a00"/>
<rect x="533" y="139.8" width="20.5" height="2" fill="#3cdc3c"/>
<text x="263.5" y="223.8" font-size="12" fill="#f0f000" textLength="27.8" lengthAdjust="spacingAndGlyphs">Entry</text>
<text x="314.6" y="264.2" font-size="12" fill="#ff4a00" textLength="54.5" lengthAdjust="spacingAndGlyphs">Stop Loss</text>
<text x="508.8" y="145.9" font-size="14" fill="#38d038" textLength="19.8" lengthAdjust="spacingAndGlyphs">Exit</text>
<polygon points="307.3,256.9 310.4,259.9 309.0,259.9 309.0,263.7 305.6,263.7 305.6,259.9 304.2,259.9" fill="none" stroke="#d8a000" stroke-width="1"/>
<polyline points="540.0,147.4 541.6,149.9 544.4,146.6" fill="none" stroke="#e8c800" stroke-width="1.1"/>
<line x1="544.3" y1="146.7" x2="546.6" y2="144.1" stroke="#b04000" stroke-width="1"/>
<rect x="1" y="1" width="935" height="1" fill="#f4f4f4"/>
<rect x="1" y="1" width="1" height="343" fill="#f4f4f4"/>
<rect x="3" y="343" width="932" height="1" fill="#383838"/>
<rect x="1" y="345" width="935" height="1" fill="#d0d0d0"/>
<rect x="1" y="345" width="1" height="171" fill="#f0f0f0"/>
<rect x="1" y="515" width="935" height="1" fill="#f0f0f0"/>
<rect x="935" y="2" width="1" height="514" fill="#474747"/><rect x="936" y="2" width="1" height="514" fill="#141414"/>
<rect x="936" y="30.7" width="2" height="1" fill="#bbb"/>
<text class="ax" x="940.2" y="34.0" textLength="27.8" lengthAdjust="spacingAndGlyphs">131.930</text>
<rect x="936" y="60.8" width="2" height="1" fill="#bbb"/>
<text class="ax" x="940.2" y="64.1" textLength="27.8" lengthAdjust="spacingAndGlyphs">131.410</text>
<rect x="936" y="90.9" width="2" height="1" fill="#bbb"/>
<text class="ax" x="940.2" y="94.2" textLength="27.8" lengthAdjust="spacingAndGlyphs">130.890</text>
<rect x="936" y="121.0" width="2" height="1" fill="#bbb"/>
<text class="ax" x="940.2" y="124.3" textLength="27.8" lengthAdjust="spacingAndGlyphs">130.370</text>
<rect x="936" y="151.1" width="2" height="1" fill="#bbb"/>
<text class="ax" x="940.2" y="154.4" textLength="27.8" lengthAdjust="spacingAndGlyphs">129.850</text>
<rect x="936" y="181.2" width="2" height="1" fill="#bbb"/>
<text class="ax" x="940.2" y="184.5" textLength="27.8" lengthAdjust="spacingAndGlyphs">129.330</text>
<rect x="936" y="211.3" width="2" height="1" fill="#bbb"/>
<text class="ax" x="940.2" y="214.6" textLength="27.8" lengthAdjust="spacingAndGlyphs">128.810</text>
<rect x="936" y="241.4" width="2" height="1" fill="#bbb"/>
<text class="ax" x="940.2" y="244.7" textLength="27.8" lengthAdjust="spacingAndGlyphs">128.290</text>
<rect x="936" y="271.5" width="2" height="1" fill="#bbb"/>
<text class="ax" x="940.2" y="274.8" textLength="27.8" lengthAdjust="spacingAndGlyphs">127.760</text>
<rect x="936" y="301.6" width="2" height="1" fill="#bbb"/>
<text class="ax" x="940.2" y="304.9" textLength="27.8" lengthAdjust="spacingAndGlyphs">127.240</text>
<rect x="936" y="331.7" width="2" height="1" fill="#bbb"/>
<text class="ax" x="940.2" y="335.0" textLength="27.8" lengthAdjust="spacingAndGlyphs">126.720</text>
<text class="ax" x="938.1" y="353.8" textLength="32.6" lengthAdjust="spacingAndGlyphs">217.6297</text>
<rect x="936" y="345" width="2" height="1" fill="#ddd"/>
<text class="ax" x="938.4" y="513.6" textLength="27.8" lengthAdjust="spacingAndGlyphs">35.3391</text>
<rect x="1.8" y="516" width="1" height="2" fill="#999"/>
<text class="ax" x="1.1" y="524.8" textLength="38.8" lengthAdjust="spacingAndGlyphs">3 Sep 2019</text>
<rect x="60.8" y="516" width="1" height="2" fill="#999"/>
<text class="ax" x="60.1" y="524.8" textLength="42.2" lengthAdjust="spacingAndGlyphs">3 Sep 08:00</text>
<rect x="119.9" y="516" width="1" height="2" fill="#999"/>
<text class="ax" x="119.2" y="524.8" textLength="42.2" lengthAdjust="spacingAndGlyphs">3 Sep 14:00</text>
<rect x="178.9" y="516" width="1" height="2" fill="#999"/>
<text class="ax" x="178.2" y="524.8" textLength="42.2" lengthAdjust="spacingAndGlyphs">3 Sep 20:00</text>
<rect x="237.9" y="516" width="1" height="2" fill="#999"/>
<text class="ax" x="237.2" y="524.8" textLength="42.2" lengthAdjust="spacingAndGlyphs">4 Sep 02:00</text>
<rect x="296.9" y="516" width="1" height="2" fill="#999"/>
<text class="ax" x="296.2" y="524.8" textLength="42.2" lengthAdjust="spacingAndGlyphs">4 Sep 08:00</text>
<rect x="356.0" y="516" width="1" height="2" fill="#999"/>
<text class="ax" x="355.3" y="524.8" textLength="42.2" lengthAdjust="spacingAndGlyphs">4 Sep 14:00</text>
<rect x="415.0" y="516" width="1" height="2" fill="#999"/>
<text class="ax" x="414.3" y="524.8" textLength="42.2" lengthAdjust="spacingAndGlyphs">4 Sep 20:00</text>
<rect x="474.0" y="516" width="1" height="2" fill="#999"/>
<text class="ax" x="473.3" y="524.8" textLength="42.2" lengthAdjust="spacingAndGlyphs">5 Sep 02:00</text>
<rect x="533.1" y="516" width="1" height="2" fill="#999"/>
<text class="ax" x="532.4" y="524.8" textLength="42.2" lengthAdjust="spacingAndGlyphs">5 Sep 08:00</text>
<rect x="592.1" y="516" width="1" height="2" fill="#999"/>
<text class="ax" x="591.4" y="524.8" textLength="42.2" lengthAdjust="spacingAndGlyphs">5 Sep 14:00</text>
<rect x="651.1" y="516" width="1" height="2" fill="#999"/>
<text class="ax" x="650.4" y="524.8" textLength="42.2" lengthAdjust="spacingAndGlyphs">5 Sep 20:00</text>
<rect x="710.2" y="516" width="1" height="2" fill="#999"/>
<text class="ax" x="709.5" y="524.8" textLength="42.2" lengthAdjust="spacingAndGlyphs">6 Sep 02:00</text>
<rect x="769.2" y="516" width="1" height="2" fill="#999"/>
<text class="ax" x="768.5" y="524.8" textLength="42.2" lengthAdjust="spacingAndGlyphs">6 Sep 08:00</text>
<rect x="828.2" y="516" width="1" height="2" fill="#999"/>
<text class="ax" x="827.5" y="524.8" textLength="42.2" lengthAdjust="spacingAndGlyphs">6 Sep 14:00</text>
<rect x="887.2" y="516" width="1" height="2" fill="#999"/>
<text class="ax" x="886.5" y="524.8" textLength="42.2" lengthAdjust="spacingAndGlyphs">6 Sep 20:00</text>
<text class="ax" x="4.5" y="10.7" textLength="41.8" lengthAdjust="spacingAndGlyphs">GBPJPY,M30</text>
<text class="ax" x="51.8" y="10.7" textLength="28.0" lengthAdjust="spacingAndGlyphs">143.037</text>
<text class="ax" x="82.7" y="10.7" textLength="28.0" lengthAdjust="spacingAndGlyphs">143.049</text>
<text class="ax" x="113.6" y="10.7" textLength="27.5" lengthAdjust="spacingAndGlyphs">142.997</text>
<text class="ax" x="144.4" y="10.7" textLength="27.4" lengthAdjust="spacingAndGlyphs">143.020</text>
<text class="ax" x="4.3" y="354.8" textLength="31.7" lengthAdjust="spacingAndGlyphs">Drive(16)</text>
<text class="ax" x="38.1" y="354.8" textLength="28.0" lengthAdjust="spacingAndGlyphs">64.2500</text>
<text class="ax" x="68.5" y="354.8" textLength="28.5" lengthAdjust="spacingAndGlyphs">44.8125</text>
<polygon points="307.2,490.6 310.3,493.6 308.9,493.6 308.9,497.4 305.5,497.4 305.5,493.6 304.1,493.6" fill="none" stroke="#d8a800" stroke-width="1"/>
<polygon points="540.9,455.7 544.1,455.7 544.1,459.5 545.9,459.5 542.5,462.3 539.1,459.5 540.9,459.5" fill="none" stroke="#e0b000" stroke-width="1"/>
<text x="319" y="497.1" font-size="12" fill="#f0e000" textLength="64.6" lengthAdjust="spacingAndGlyphs">Bullish Drive</text>
<g clip-path="url(#indclip)">
<polyline points="1.6,495.2 5.1,494.1 11.4,490.4 14.4,498.6 16.0,503.4 20.8,502.8 25.6,498.0 30.4,501.2 35.2,502.8 41.6,503.4 51.2,502.8 56.0,503.4 60.8,506.0 67.2,500.2 73.6,492.8 80.0,490.6 86.4,482.6 91.2,465.0 100.8,465.0 105.6,467.6 110.4,461.8 113.6,436.2 115.2,413.8 120.0,409.2 124.5,407.2 129.0,405.0 132.4,401.2 135.8,398.4 138.6,397.3 142.0,393.7 144.3,390.7 146.0,390.5 147.7,392.2 149.9,393.7 150.5,389.4 151.6,382.6 153.3,374.7 154.5,368.5 156.2,367.7 159.5,367.7 162.4,368.8 165.2,371.3 166.3,377.0 168.0,382.6 169.2,389.6 173.1,387.1 176.5,384.9 178.8,382.8 183.6,385.0 188.4,388.2 193.2,434.0 198.0,437.2 202.8,439.4 207.6,444.2 212.4,450.0 217.2,446.8 222.0,456.4 228.4,457.6 233.2,484.2 238.0,487.4 242.8,492.2 247.6,494.8 252.4,494.8 258.8,494.4 263.6,486.8 267.8,490.6 273.2,482.6 278.0,485.8 287.6,485.8 292.4,482.0 297.2,483.2 303.2,482.6 306.4,466.6 312.8,460.2 317.6,450.6 322.4,442.6 330.4,437.8 336.8,431.4 341.6,425.0 346.4,418.0 351.2,414.8 356.0,409.0 362.4,404.2 367.2,402.6 372.0,404.5 376.8,402.6 380.6,402.0 384.8,412.2 388.0,410.6 391.2,410.6 396.0,417.0 400.8,420.2 405.6,413.2 410.4,413.8 413.6,418.6 420.0,436.2 424.8,427.6 429.6,434.0 434.4,435.2 440.2,437.2 444.6,439.4 449.8,421.8 454.8,426.6 459.6,426.6 464.4,436.2 469.2,445.2 474.0,445.8 478.8,450.6 483.6,455.4 488.4,459.6 493.2,453.2 498.6,445.8 502.8,453.2 507.6,457.0 512.4,460.2 517.2,462.8 522.0,466.6 525.2,474.6 528.4,484.2 533.2,483.2 539.6,483.2 542.8,484.2 547.6,477.8 552.4,471.4 557.2,450.6 562.0,445.8 567.8,441.0 573.2,450.0 578.0,434.6 582.8,417.0 587.6,407.4 592.4,395.6 597.2,393.0 600.5,383.0 603.2,377.0 608.0,373.8 612.8,370.0 617.6,361.0 622.4,354.0 627.2,357.2 632.0,360.4 636.8,378.6 641.6,389.8 646.4,396.2 651.2,394.6 656.0,415.4 660.8,436.2 665.6,442.6 670.4,452.2 675.2,452.2 681.6,466.0 686.4,468.2 691.2,469.8 696.0,477.8 700.8,482.6 705.6,486.4 708.8,489.6 713.6,487.4 720.0,486.4 726.4,482.6 731.2,484.2 736.0,481.0 740.8,483.2 745.6,482.6 750.4,488.4 754.8,489.8 759.6,489.8 764.4,490.8 769.2,495.0 774.0,486.0 778.8,487.6 783.6,484.4 788.4,482.8 793.3,481.2 802.9,481.2 807.7,474.8 812.5,468.4 817.3,466.8 822.1,468.4 826.9,462.0 831.7,457.1 836.5,455.5 841.3,450.7 846.1,447.5 848.4,445.0 850.9,452.3 854.1,453.9 857.3,450.7 862.1,455.5 866.9,453.9 871.8,458.7 876.6,461.0 880.0,463.1 883.1,466.2 887.3,471.4 890.4,474.5 897.1,479.5 902.3,479.5 904.9,481.8 907.5,486.4 911.6,489.5 917.8,489.5 919.9,493.2 923.5,498.3 927.2,501.7 931.3,497.3" fill="none" stroke="#008200" stroke-width="1" stroke-linejoin="round" shape-rendering="crispEdges"/>
<polyline points="1.6,489.0 6.4,499.0 11.5,505.4 17.6,501.8 22.4,506.6 27.2,505.6 32.0,501.8 36.8,495.4 43.2,494.4 49.6,494.8 56.0,497.0 60.8,492.2 64.0,482.6 67.2,471.4 70.4,473.0 73.6,455.4 76.8,442.6 80.0,429.8 84.8,415.4 89.6,412.8 94.4,409.6 97.6,409.0 100.8,412.2 105.6,406.4 110.4,405.2 115.2,402.6 120.0,398.4 122.3,393.9 125.1,388.8 129.6,388.5 132.4,386.9 135.8,384.6 139.2,384.0 140.9,386.6 142.6,391.6 144.9,397.9 146.2,393.9 147.7,390.5 149.4,384.3 150.5,387.1 151.6,393.9 153.3,401.8 155.0,408.6 157.3,413.1 160.1,419.3 164.4,428.2 172.4,434.0 178.8,438.4 183.6,444.8 188.4,447.4 194.8,453.8 199.6,460.8 204.4,469.8 209.2,468.2 214.0,464.0 218.8,466.6 223.6,469.8 228.4,484.2 233.2,487.4 238.0,497.0 242.8,494.8 247.6,493.8 254.0,494.8 258.8,493.8 265.2,492.8 270.0,493.8 274.8,496.0 281.2,495.4 287.6,495.4 292.4,501.8 297.2,507.2 303.6,504.4 306.4,501.8 312.8,501.8 317.6,503.4 322.4,505.0 327.2,501.2 332.0,496.0 336.8,494.8 341.6,492.8 346.4,490.6 351.2,485.8 356.0,478.8 360.8,477.8 365.6,478.8 370.4,472.4 375.2,468.2 381.6,464.0 386.4,458.6 391.2,449.0 396.0,447.4 400.8,450.0 407.2,454.8 412.0,455.4 416.8,453.2 421.6,450.6 426.4,453.8 429.6,450.6 434.4,462.8 439.2,466.6 444.0,467.6 448.8,472.4 454.8,473.0 459.6,479.4 464.4,485.8 469.2,490.6 474.0,489.0 478.8,489.6 483.6,492.8 488.4,485.8 493.2,491.6 498.0,492.2 502.8,490.6 509.2,496.0 514.0,494.8 518.8,492.8 523.6,487.4 528.4,490.6 533.2,492.8 538.0,493.8 540.2,492.2 542.8,470.4 547.6,472.4 551.8,469.8 555.6,467.2 562.0,466.0 567.8,471.4 573.2,468.2 578.0,468.2 582.8,466.6 587.6,464.0 592.4,462.8 597.2,453.2 602.0,457.6 606.8,453.2 608.0,453.2 612.8,447.4 616.6,447.4 619.2,453.8 622.4,468.2 627.2,462.8 632.0,465.0 636.8,463.4 641.6,458.6 646.4,454.4 651.2,456.4 656.0,454.8 660.8,458.0 665.6,459.2 670.4,461.8 675.2,473.0 681.6,471.4 686.4,474.6 691.2,476.2 696.0,477.8 700.8,482.0 705.6,489.0 710.4,490.6 715.2,491.6 720.0,492.8 725.4,498.0 731.2,498.0 736.0,499.6 740.8,498.6 745.6,500.2 750.4,495.4 755.2,494.8 760.0,495.5 764.4,495.0 769.2,495.6 775.0,495.0 778.8,491.7 783.6,484.4 788.4,473.2 793.3,466.8 798.1,467.4 802.9,466.8 807.7,458.7 812.5,449.1 817.3,444.3 822.1,441.1 826.9,440.5 831.7,441.1 836.5,439.5 841.3,435.4 844.5,428.3 848.4,427.7 853.2,422.5 857.3,426.7 862.1,430.9 866.9,444.3 871.8,442.7 876.6,446.9 881.4,445.9 886.2,453.9 889.8,460.5 893.5,466.2 897.1,468.8 901.2,471.4 905.4,472.4 910.0,474.0 913.7,476.1 917.8,480.2 919.4,483.8 921.5,488.0 922.5,489.5 927.2,489.5 928.7,491.1 931.3,495.2" fill="none" stroke="#dc0000" stroke-width="1" stroke-linejoin="round" shape-rendering="crispEdges"/>
</g>
</svg></body></html>
